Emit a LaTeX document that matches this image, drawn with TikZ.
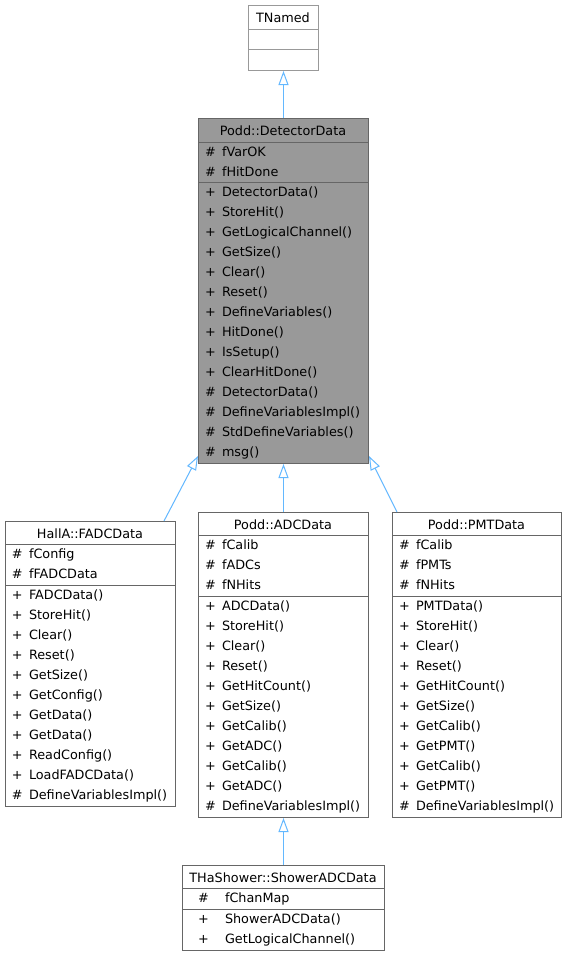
\documentclass[tikz,border=0pt]{standalone}
\usepackage{fontspec}
\setmainfont{DejaVu Sans}
\usetikzlibrary{arrows.meta,calc}
\definecolor{boxborder}{HTML}{666666}
\definecolor{extborder}{HTML}{999999}
\definecolor{basefill}{HTML}{999999}
\definecolor{edgeblue}{HTML}{63B8FF}
\tikzset{
  classbox/.style={draw=boxborder, fill=white, line width=1pt, inner sep=0pt, rectangle},
  extbox/.style={draw=extborder, fill=white, line width=1pt, inner sep=0pt, rectangle},
  basebox/.style={draw=boxborder, fill=basefill, line width=1pt, inner sep=0pt, rectangle},
  txt/.style={inner sep=0pt, outer sep=0pt, font=\fontsize{12.8}{15}\selectfont, text=black},
  divider/.style={draw=boxborder, line width=1pt},
  extdivider/.style={draw=extborder, line width=1pt},
  inherit/.style={draw=edgeblue, line width=1pt, -{Triangle[open, fill=white, length=14pt, width=10pt]}},
}
\newcommand{\classnode}[7]{%
  \node[#7, minimum width=#4, minimum height=#5, anchor=north west] (#1) at (#2,-#3) {};
  \node[txt, anchor=base] (#1-title) at (#2+#4/2, -#3-17) {#6};
}
\newcommand{\classrows}[6]{%
  \foreach [count=\i] \sy/\tx in {#6} {
    \node[txt, anchor=base west] (#1-s\i) at (#2+#4, -#3-14-20*\i+20) {\sy};
    \node[txt, anchor=base west] (#1-t\i) at (#2+#5, -#3-14-20*\i+20) {\tx};
  }%
}
\begin{document}
\begin{tikzpicture}[x=1pt,y=1pt]
\useasboundingbox (0,0) rectangle (567,-956);
\fill[white] (0,0) rectangle (567,-956);

% TNamed
\classnode{tnamed}{248}{5}{70}{65}{TNamed}{extbox}
\draw[extdivider] (248,-29) -- (318,-29);
\draw[extdivider] (248,-49) -- (318,-49);

% Podd::DetectorData
\classnode{det}{198}{118}{170}{345}{Podd::DetectorData}{basebox}
\draw[divider] (198,-142) -- (368,-142);
\draw[divider] (198,-182) -- (368,-182);
\classrows{deta}{198}{142}{7}{24}{\#/fVarOK, \#/fHitDone}
\classrows{detm}{198}{182}{7}{24}{+/DetectorData(), +/StoreHit(), +/GetLogicalChannel(), +/GetSize(), +/Clear(), +/Reset(), +/DefineVariables(), +/HitDone(), +/IsSetup(), +/ClearHitDone(), \#/DetectorData(), \#/DefineVariablesImpl(), \#/StdDefineVariables(), \#/msg()}

% HallA::FADCData
\classnode{fadc}{5}{521}{170}{285}{HallA::FADCData}{classbox}
\draw[divider] (5,-544) -- (175,-544);
\draw[divider] (5,-585) -- (175,-585);
\classrows{fadca}{5}{544}{7}{24}{\#/fConfig, \#/fFADCData}
\classrows{fadcm}{5}{585}{7}{24}{+/FADCData(), +/StoreHit(), +/Clear(), +/Reset(), +/GetSize(), +/GetConfig(), +/GetData(), +/GetData(), +/ReadConfig(), +/LoadFADCData(), \#/DefineVariablesImpl()}

% Podd::ADCData
\classnode{adc}{198}{512}{170}{305}{Podd::ADCData}{classbox}
\draw[divider] (198,-535) -- (368,-535);
\draw[divider] (198,-596) -- (368,-596);
\classrows{adca}{198}{535}{7}{24}{\#/fCalib, \#/fADCs, \#/fNHits}
\classrows{adcm}{198}{596}{7}{24}{+/ADCData(), +/StoreHit(), +/Clear(), +/Reset(), +/GetHitCount(), +/GetSize(), +/GetCalib(), +/GetADC(), +/GetCalib(), +/GetADC(), \#/DefineVariablesImpl()}

% Podd::PMTData
\classnode{pmt}{392}{512}{169}{305}{Podd::PMTData}{classbox}
\draw[divider] (392,-535) -- (561,-535);
\draw[divider] (392,-596) -- (561,-596);
\classrows{pmta}{392}{535}{7}{24}{\#/fCalib, \#/fPMTs, \#/fNHits}
\classrows{pmtm}{392}{596}{7}{24}{+/PMTData(), +/StoreHit(), +/Clear(), +/Reset(), +/GetHitCount(), +/GetSize(), +/GetCalib(), +/GetPMT(), +/GetCalib(), +/GetPMT(), \#/DefineVariablesImpl()}

% THaShower::ShowerADCData
\classnode{shower}{182}{865}{202}{85}{THaShower::ShowerADCData}{classbox}
\draw[divider] (182,-888) -- (384,-888);
\draw[divider] (182,-909) -- (384,-909);
\classrows{showera}{182}{888}{16}{43}{\#/fChanMap}
\classrows{showerm}{182}{909}{16}{43}{+/ShowerADCData(), +/GetLogicalChannel()}

% inheritance edges
\draw[inherit] (det.north) -- (tnamed.south);
\draw[inherit] ($(fadc.north east)+(-12,0)$) -- ($(det.south west)+(0,8)$);
\draw[inherit] (adc.north) -- (det.south);
\draw[inherit] ($(pmt.north west)+(5,0)$) -- ($(det.south east)+(0,8)$);
\draw[inherit] (shower.north) -- (adc.south);
\end{tikzpicture}
\end{document}
